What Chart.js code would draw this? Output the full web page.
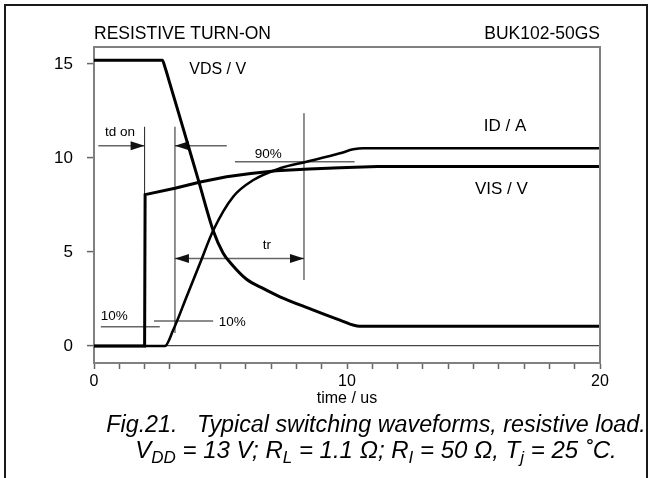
<!DOCTYPE html>
<html><head><meta charset="utf-8">
<script src="https://cdn.jsdelivr.net/npm/chart.js@4"></script>
<style>
body{margin:0;background:#fff;width:651px;height:478px;overflow:hidden;position:relative;font-family:"Liberation Sans",Arial,sans-serif}
#frame{position:absolute;left:4px;top:4px;width:640px;height:480px;border:2px solid #1a1a1a;border-bottom:none;box-sizing:content-box}
#wrap{position:absolute;left:0;top:0;width:651px;height:478px}
.cap{position:absolute;left:76px;width:600px;text-align:center;font-style:italic;line-height:26px;white-space:pre;color:#000}
.cap sub{font-size:17px;line-height:0;vertical-align:-5px}
</style></head>
<body>
<div id="wrap"><canvas id="c" width="651" height="478"></canvas></div>
<div id="frame"></div>
<div class="cap" style="top:411px;font-size:23.3px">Fig.21.   Typical switching waveforms, resistive load.</div>
<div class="cap" style="top:437px;font-size:24px">V<sub>DD</sub> = 13 V; R<sub>L</sub> = 1.1 Ω; R<sub>I</sub> = 50 Ω, T<sub>j</sub> = 25 ˚C.</div>
<script>
// ---- data (time in us) ----
const vdsTime = [0, 2.7, 2.8, 3.0, 3.2, 3.66, 4.12, 4.72, 5.1, 5.44, 6.03, 6.7, 7.35, 8.5, 9.72, 10.5, 20];
const vdsVals = [15.2, 15.2, 14.85, 13.95, 13.05, 10.95, 8.85, 6.1, 4.95, 4.35, 3.55, 3.05, 2.62, 2.0, 1.38, 1.05, 1.05];
const visTime = [0, 2.0, 2.02, 3.2, 4.2, 5.24, 6.2, 7.2, 8.5, 9.72, 11.2, 20];
const visVals = [0, 0, 8.05, 8.39, 8.72, 9.0, 9.18, 9.32, 9.42, 9.48, 9.55, 9.55];
const idTime  = [0, 2.8, 3.13, 3.66, 4.19, 4.72, 5.5, 6.3, 7.35, 8.4, 9.72, 10.25, 10.65, 20];
const idVals  = [0, 0, 0.85, 2.62, 4.4, 6.17, 7.94, 8.83, 9.45, 9.8, 10.25, 10.46, 10.52, 10.52];
const yTicks = [0, 5, 10, 15];
const xTicks = [0,1,2,3,4,5,6,7,8,9,10,11,12,13,14,15,16,17,18,19,20];
const xLabels = [0, 10, 20];
// annotation segments [t1, v1, t2, v2]
const hLines = [[0.17,10.65,2.0,10.65],[3.2,10.65,5.25,10.65],[5.57,9.8,10.3,9.8],[3.2,4.66,8.3,4.66],[0.27,1.03,2.6,1.03],[2.37,1.33,4.71,1.33]];
const vLines = [[2.0,11.66,2.0,8.0],[3.2,11.66,3.2,0.69],[8.3,12.38,8.3,3.51]];
// arrows [tipT, tipV, dir]
const arrows = [[2.0,10.65,1],[3.2,10.65,-1],[3.2,4.66,-1],[8.3,4.66,1]];
// labels [text, t, v, size]
const labels = [['td on',1.03,11.37,13.5],['90%',6.89,10.21,13.5],['tr',6.83,5.37,13.5],['10%',0.8,1.6,13.5],['10%',5.46,1.24,13.5],
  ['VDS / V',4.89,14.7,16],['ID / A',16.25,11.7,17],['VIS / V',16.1,8.33,17]];

const toXY = (t, v) => t.map((x, i) => ({x, y: v[i]}));
const FONT = '"Liberation Sans", Arial, sans-serif';

const annot = {
  id: 'annot',
  beforeDatasetsDraw(chart) {
    const {ctx, scales: {x, y}} = chart;
    ctx.save();
    ctx.lineCap = 'butt';
    ctx.strokeStyle = '#666'; ctx.lineWidth = 1.5;
    hLines.forEach(s => { ctx.beginPath(); ctx.moveTo(x.getPixelForValue(s[0]), y.getPixelForValue(s[1])); ctx.lineTo(x.getPixelForValue(s[2]), y.getPixelForValue(s[3])); ctx.stroke(); });
    ctx.strokeStyle = '#222'; ctx.lineWidth = 1;
    vLines.forEach(s => { ctx.beginPath(); ctx.moveTo(x.getPixelForValue(s[0]), y.getPixelForValue(s[1])); ctx.lineTo(x.getPixelForValue(s[2]), y.getPixelForValue(s[3])); ctx.stroke(); });
    ctx.fillStyle = '#111';
    arrows.forEach(a => { const X = x.getPixelForValue(a[0]), Y = y.getPixelForValue(a[1]), d = a[2];
      ctx.beginPath(); ctx.moveTo(X, Y); ctx.lineTo(X - d*14, Y - 4.5); ctx.lineTo(X - d*14, Y + 4.5); ctx.closePath(); ctx.fill(); });
    ctx.textAlign = 'center'; ctx.textBaseline = 'middle'; ctx.fillStyle = '#000';
    labels.forEach(l => { ctx.font = l[3] + 'px ' + FONT; ctx.fillText(l[0], x.getPixelForValue(l[1]), y.getPixelForValue(l[2])); });
    ctx.restore();
  },
  afterDraw(chart) {
    const {ctx, chartArea: a} = chart;
    ctx.save();
    ctx.strokeStyle = '#808080'; ctx.lineWidth = 2;
    ctx.beginPath(); ctx.moveTo(a.left, a.top); ctx.lineTo(a.right, a.top); ctx.lineTo(a.right, a.bottom); ctx.stroke();
    ctx.fillStyle = '#000'; ctx.font = '17.5px ' + FONT; ctx.textBaseline = 'middle';
    ctx.textAlign = 'left'; ctx.fillText('RESISTIVE TURN-ON', a.left, a.top - 13);
    ctx.textAlign = 'right'; ctx.fillText('BUK102-50GS', a.right, a.top - 13);
    ctx.restore();
  }
};

new Chart(document.getElementById('c'), {
  type: 'line',
  data: { datasets: [
    { label: 'VDS / V', data: toXY(vdsTime, vdsVals), borderColor: '#000', borderWidth: 3, pointRadius: 0, cubicInterpolationMode: 'monotone' },
    { label: 'VIS / V', data: toXY(visTime, visVals), borderColor: '#000', borderWidth: 3, pointRadius: 0, tension: 0 },
    { label: 'ID / A', data: toXY(idTime, idVals), borderColor: '#000', borderWidth: 2.6, pointRadius: 0, cubicInterpolationMode: 'monotone' }
  ]},
  options: {
    responsive: false, animation: false, events: [],
    layout: { padding: { left: 0, right: 51, top: 47, bottom: 66 } },
    plugins: { legend: { display: false }, tooltip: { enabled: false } },
    scales: {
      x: {
        type: 'linear', min: 0, max: 20,
        afterFit: s => { s.height = 49; },
        afterBuildTicks: s => { s.ticks = xTicks.map(v => ({value: v})); },
        ticks: { autoSkip: false, maxRotation: 0, padding: 3, color: '#000', font: { size: 16, family: FONT },
          callback: v => xLabels.includes(v) ? String(v) : '' },
        grid: { drawOnChartArea: false, drawTicks: true, tickLength: 6, tickColor: '#666', tickWidth: 1.5 },
        border: { color: '#808080', width: 2 },
        title: { display: true, text: 'time / us', color: '#000', font: { size: 16, family: FONT }, padding: { top: 2, bottom: 4 } }
      },
      y: {
        type: 'linear', min: -0.9, max: 15.9,
        afterFit: s => { s.width = 94; },
        afterBuildTicks: s => { s.ticks = yTicks.map(v => ({value: v})); },
        ticks: { padding: 14, color: '#000', font: { size: 17, family: FONT } },
        grid: { drawTicks: true, tickLength: 7, tickColor: '#666', tickWidth: 1.5,
          color: c => (c.tick && c.tick.value === 0) ? '#444' : 'rgba(0,0,0,0)', lineWidth: 1.2 },
        border: { color: '#808080', width: 2 }
      }
    }
  },
  plugins: [annot]
});
</script>
</body></html>
